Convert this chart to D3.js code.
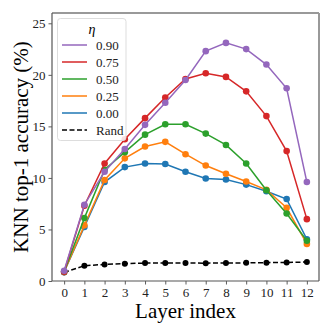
<!DOCTYPE html>
<html lang="en">
  <head>
    <meta charset="UTF-8" />
    <title>KNN accuracy per layer</title>
    <script src="https://cdn.jsdelivr.net/npm/d3@7"></script>
    <style>
      body { margin: 0; background: #fff; }
      svg text { font-family: "Liberation Serif", "Times New Roman", Times, serif !important; }
    </style>
  </head>
  <body>
    <div id="container"></div>
    <script>
      // data
      const layers = [0, 1, 2, 3, 4, 5, 6, 7, 8, 9, 10, 11, 12]
      const eta090 = [1.0, 7.4, 10.6, 12.8, 15.15, 17.3, 19.5, 22.3, 23.1, 22.5, 21.0, 18.7, 9.6]
      const eta075 = [0.9, 7.3, 11.4, 13.75, 15.8, 17.8, 19.6, 20.15, 19.8, 18.4, 16.0, 12.6, 6.0]
      const eta050 = [0.9, 6.1, 10.8, 12.5, 14.2, 15.2, 15.2, 14.3, 13.2, 11.4, 8.8, 6.55, 3.9]
      const eta025 = [0.9, 5.4, 9.8, 11.9, 13.05, 13.5, 12.3, 11.2, 10.4, 9.65, 8.85, 7.1, 3.6]
      const eta000 = [0.9, 5.25, 9.6, 11.05, 11.4, 11.35, 10.6, 9.95, 9.85, 9.35, 8.7, 7.95, 4.05]
      const rand = [0.83, 1.48, 1.61, 1.68, 1.74, 1.74, 1.75, 1.73, 1.75, 1.76, 1.78, 1.8, 1.84]
      const seriesNames = ['0.90', '0.75', '0.50', '0.25', '0.00', 'Rand']
      const seriesColors = ['#9467bd', '#d62728', '#2ca02c', '#ff7f0e', '#1f77b4', '#000000']
      const yTicks = [0, 5, 10, 15, 20, 25]

      const series = [eta090, eta075, eta050, eta025, eta000, rand].map((vals, i) => ({
        name: seriesNames[i],
        color: seriesColors[i],
        dashed: seriesNames[i] === 'Rand',
        values: vals
      }))

      const serif = '"Liberation Serif", "Times New Roman", Times, serif'
      const width = 332
      const height = 332
      const marginTop = 13
      const marginRight = 13
      const marginBottom = 51
      const marginLeft = 52

      const x = d3.scaleLinear()
        .domain([-0.6, 12.6])
        .range([marginLeft, width - marginRight])

      const y = d3.scaleLinear()
        .domain([0, 26])
        .range([height - marginBottom, marginTop])

      const svg = d3.create('svg')
        .attr('width', width)
        .attr('height', height)
        .attr('viewBox', [0, 0, width, height])
        .attr('font-family', serif)

      // axes
      const xAxis = svg.append('g')
        .attr('transform', `translate(0, ${height - marginBottom})`)
        .call(d3.axisBottom(x).tickValues(layers).tickSize(3.5).tickPadding(3))
      const yAxis = svg.append('g')
        .attr('transform', `translate(${marginLeft}, 0)`)
        .call(d3.axisLeft(y).tickValues(yTicks).tickSize(3.5).tickPadding(3))

      for (const ax of [xAxis, yAxis]) {
        ax.attr('font-family', serif)
        ax.select('.domain').remove()
        ax.selectAll('.tick line').attr('stroke', '#333').attr('stroke-width', 0.8)
        ax.selectAll('.tick text')
          .attr('font-size', 13)
          .attr('fill', '#222')
      }

      // frame
      const x0 = marginLeft, x1 = width - marginRight
      const y0 = marginTop, y1 = height - marginBottom
      svg.append('line').attr('x1', x0).attr('x2', x1).attr('y1', y0).attr('y2', y0)
        .attr('stroke', '#999').attr('stroke-width', 2)
      svg.append('line').attr('x1', x1).attr('x2', x1).attr('y1', y0).attr('y2', y1)
        .attr('stroke', '#999').attr('stroke-width', 2)
      svg.append('line').attr('x1', x0).attr('x2', x0).attr('y1', y0).attr('y2', y1)
        .attr('stroke', '#555').attr('stroke-width', 1.2)
      svg.append('line').attr('x1', x0).attr('x2', x1).attr('y1', y1).attr('y2', y1)
        .attr('stroke', '#555').attr('stroke-width', 1.2)

      // lines + markers, drawn bottom-up so purple ends on top
      const line = d3.line()
        .x((d, i) => x(layers[i]))
        .y(d => y(d))

      const drawOrder = [5, 4, 3, 2, 1, 0]
      for (const k of drawOrder) {
        const s = series[k]
        const g = svg.append('g')
        g.append('path')
          .datum(s.values)
          .attr('fill', 'none')
          .attr('stroke', s.color)
          .attr('stroke-width', 1.5)
          .attr('stroke-dasharray', s.dashed ? '5,2.5' : null)
          .attr('d', line)
        g.selectAll('circle')
          .data(s.values)
          .join('circle')
          .attr('cx', (d, i) => x(layers[i]))
          .attr('cy', d => y(d))
          .attr('r', s.dashed ? 3 : 3.3)
          .attr('fill', s.color)
      }

      // legend
      const legend = svg.append('g')
      legend.append('rect')
        .attr('x', 57.5).attr('y', 18.5)
        .attr('width', 68.5).attr('height', 122)
        .attr('rx', 3)
        .attr('fill', 'rgba(255,255,255,0.85)')
        .attr('stroke', '#ddd')
      legend.append('text')
        .attr('x', 92).attr('y', 34)
        .attr('text-anchor', 'middle')
        .attr('font-size', 14)
        .attr('font-style', 'italic')
        .text('η')
      series.forEach((s, i) => {
        const ly = 45 + i * 17
        legend.append('line')
          .attr('x1', 62).attr('x2', 87)
          .attr('y1', ly).attr('y2', ly)
          .attr('stroke', s.color)
          .attr('stroke-width', 1.5)
          .attr('stroke-dasharray', s.dashed ? '5,2.5' : null)
        legend.append('text')
          .attr('x', 96).attr('y', ly + 4.5)
          .attr('font-size', 13)
          .attr('fill', '#222')
          .text(s.name)
      })

      // axis titles
      svg.append('text')
        .attr('x', (x0 + x1) / 2)
        .attr('y', 318)
        .attr('text-anchor', 'middle')
        .attr('font-size', 21)
        .text('Layer index')
      svg.append('text')
        .attr('transform', `translate(28, ${(y0 + y1) / 2}) rotate(-90)`)
        .attr('text-anchor', 'middle')
        .attr('font-size', 21)
        .text('KNN top-1 accuracy (%)')

      container.append(svg.node())
    </script>
  </body>
</html>
